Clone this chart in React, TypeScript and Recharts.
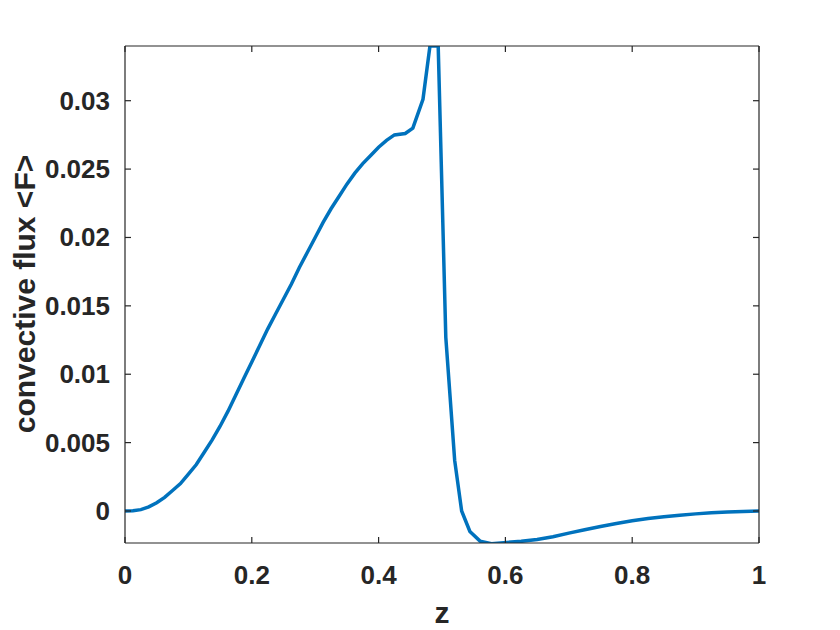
import React from 'react';
import { LineChart, Line, XAxis, YAxis } from 'recharts';

const zValues = [
  0.0, 0.0125, 0.025, 0.0375, 0.05, 0.0625, 0.075, 0.0875, 0.1, 0.1125, 0.125, 0.1375, 0.15, 0.1625,
  0.175, 0.1875, 0.2, 0.2125, 0.225, 0.2375, 0.25, 0.2625, 0.275, 0.2875, 0.3, 0.3125, 0.325, 0.3375,
  0.35, 0.3625, 0.375, 0.3875, 0.4, 0.4125, 0.425, 0.442, 0.454, 0.47, 0.481, 0.494, 0.506, 0.52,
  0.531, 0.544, 0.56, 0.578, 0.602, 0.625, 0.65, 0.675, 0.7, 0.725, 0.75, 0.775, 0.8, 0.825, 0.85,
  0.875, 0.9, 0.925, 0.95, 0.975, 1.0,
];
const fluxValues = [
  0.0, 0.00002, 0.0001, 0.0003, 0.0006, 0.001, 0.0015, 0.002, 0.0027, 0.0034, 0.0043, 0.0052, 0.0062, 0.0073,
  0.0085, 0.0097, 0.0109, 0.0121, 0.0133, 0.0144, 0.0155, 0.0166, 0.0178, 0.0189, 0.02, 0.0211, 0.0221, 0.023,
  0.0239, 0.0247, 0.0254, 0.026, 0.0266, 0.0271, 0.0275, 0.0276, 0.028, 0.0301, 0.034, 0.034, 0.0127, 0.0037,
  0.0, -0.0015, -0.0022, -0.0024, -0.0023, -0.00222, -0.00208, -0.00188, -0.00162, -0.00137, -0.00113, -0.00092, -0.00072, -0.00055, -0.00042,
  -0.00031, -0.00021, -0.00013, -0.00007, -0.00003, 0.0,
];
const xTicks = [0, 0.2, 0.4, 0.6, 0.8, 1];
const xTickLabels = ['0', '0.2', '0.4', '0.6', '0.8', '1'];
const yTicks = [0, 0.005, 0.01, 0.015, 0.02, 0.025, 0.03];
const yTickLabels = ['0', '0.005', '0.01', '0.015', '0.02', '0.025', '0.03'];
const xLabel = 'z';
const yLabel = 'convective flux <F>';

const data = zValues.map((z, i) => ({ z, f: fluxValues[i] }));

const INK = '#262626';
const FONT = '"Liberation Sans", Arial, Helvetica, sans-serif';
const TICK_FS = 26;
const LABEL_FS = 30;

const labelOf = (ticks: number[], labels: string[], v: number) => {
  const i = ticks.findIndex((t) => Math.abs(t - v) < 1e-9);
  return i >= 0 ? labels[i] : String(v);
};

const BottomTick = (props: any) => {
  const { x, y, payload } = props;
  return (
    <g>
      <line x1={x} x2={x} y1={y} y2={y - 6} stroke={INK} strokeWidth={1.2} />
      <text x={x} y={y + 32} textAnchor="middle" dominantBaseline="central" fontFamily={FONT} fontWeight="bold" fontSize={TICK_FS} fill={INK}>
        {labelOf(xTicks, xTickLabels, payload.value)}
      </text>
    </g>
  );
};

const LeftTick = (props: any) => {
  const { x, y, payload } = props;
  return (
    <g>
      <line x1={x} x2={x + 6} y1={y} y2={y} stroke={INK} strokeWidth={1.2} />
      <text x={x - 15} y={y} textAnchor="end" dominantBaseline="central" fontFamily={FONT} fontWeight="bold" fontSize={TICK_FS} fill={INK}>
        {labelOf(yTicks, yTickLabels, payload.value)}
      </text>
    </g>
  );
};

const TopTick = (props: any) => {
  const { x, y } = props;
  return <line x1={x} x2={x} y1={y} y2={y + 6} stroke={INK} strokeWidth={1.2} />;
};

const RightTick = (props: any) => {
  const { x, y } = props;
  return <line x1={x} x2={x - 6} y1={y} y2={y} stroke={INK} strokeWidth={1.2} />;
};

const YLabel = () => (
  <text x={27} y={286} transform="rotate(-90, 27, 286)" textAnchor="middle" fontFamily={FONT} fontWeight="bold" fontSize={LABEL_FS} fill={INK}>
    {yLabel}
  </text>
);

const XLabel = () => (
  <text x={434} y={604} textAnchor="middle" dominantBaseline="central" fontFamily={FONT} fontWeight="bold" fontSize={LABEL_FS} fill={INK}>
    {xLabel}
  </text>
);

const Y_DOMAIN = [-0.00234, 0.034];

export default function App() {
  return (
    <div style={{ width: 832, height: 622, background: '#fff' }}>
      <LineChart width={832} height={622} data={data} margin={{ top: 37, right: 80, bottom: 0, left: 0 }}>
        <XAxis
          dataKey="z"
          type="number"
          domain={[0, 1]}
          ticks={xTicks}
          interval={0}
          height={87}
          tickSize={0}
          tickMargin={0}
          tickLine={false}
          axisLine={{ stroke: INK, strokeWidth: 1.2 }}
          tick={<BottomTick />}
          label={<XLabel />}
        />
        <XAxis
          xAxisId="top"
          orientation="top"
          dataKey="z"
          type="number"
          domain={[0, 1]}
          ticks={xTicks}
          interval={0}
          height={1}
          tickSize={0}
          tickMargin={0}
          tickLine={false}
          axisLine={{ stroke: INK, strokeWidth: 1.2 }}
          tick={<TopTick />}
        />
        <YAxis
          type="number"
          domain={Y_DOMAIN}
          allowDataOverflow
          ticks={yTicks}
          interval={0}
          width={117}
          tickSize={0}
          tickMargin={0}
          tickLine={false}
          axisLine={{ stroke: INK, strokeWidth: 1.2 }}
          tick={<LeftTick />}
          label={<YLabel />}
        />
        <YAxis
          yAxisId="right"
          orientation="right"
          type="number"
          domain={Y_DOMAIN}
          allowDataOverflow
          ticks={yTicks}
          interval={0}
          width={1}
          tickSize={0}
          tickMargin={0}
          tickLine={false}
          axisLine={{ stroke: INK, strokeWidth: 1.2 }}
          tick={<RightTick />}
        />
        <Line
          type="linear"
          dataKey="f"
          stroke="#0072BD"
          strokeWidth={3.5}
          dot={false}
          activeDot={false}
          isAnimationActive={false}
        />
      </LineChart>
    </div>
  );
}
